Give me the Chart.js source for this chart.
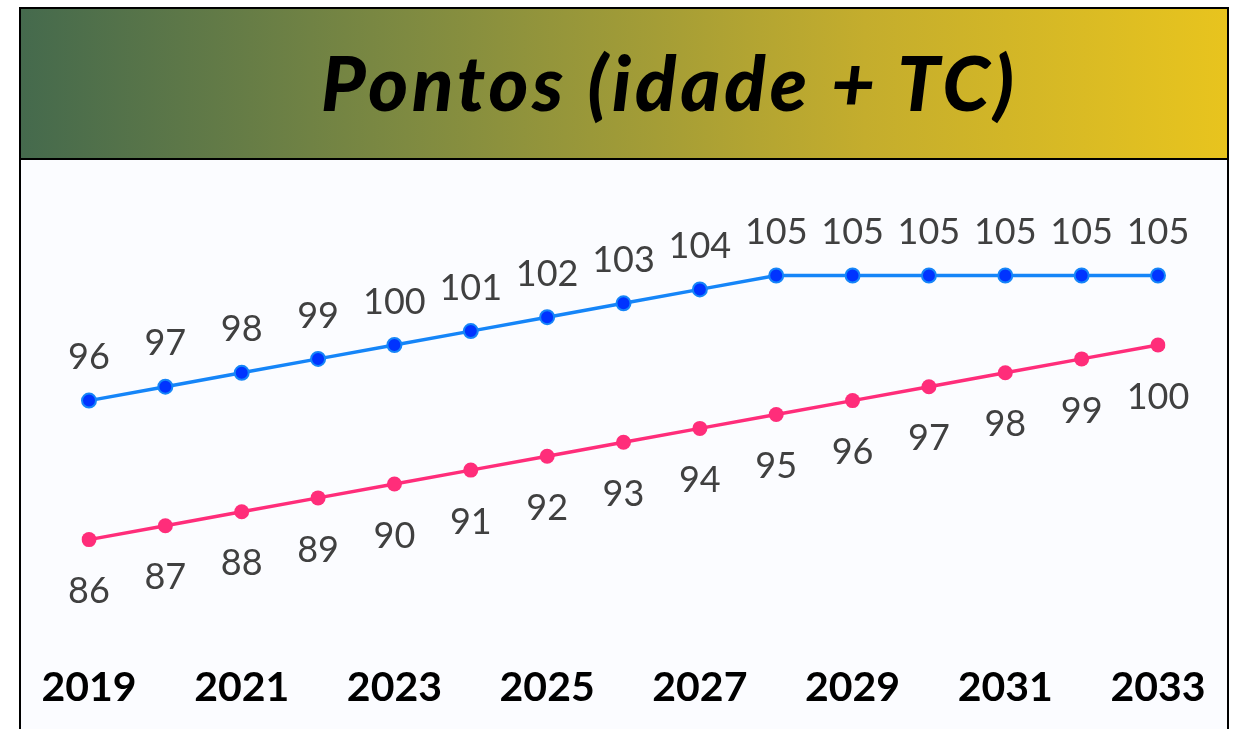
<!DOCTYPE html>
<html>
<head>
<meta charset="utf-8">
<script src="https://cdn.jsdelivr.net/npm/chart.js@4.4.1/dist/chart.umd.min.js"></script>
<style>
    body { margin: 0; background: #ffffff; width: 1240px; height: 729px; overflow: hidden; }
    #frame {
        position: absolute; left: 19px; top: 7px; width: 1206px; height: 740px;
        border: 2px solid #000; background: #fbfcff;
    }
    #header {
        height: 149px; border-bottom: 2px solid #000;
        background: linear-gradient(to right, #456a4d 0%, #7e8a41 32%, #c4ad2d 70%, #e8c41e 100%);
        position: relative;
    }
    #title {
        position: absolute; left: 300px; top: 28px;
        font-family: Lato, sans-serif; font-weight: 900; font-style: italic;
        font-size: 76px; line-height: 90px; letter-spacing: 4px; color: #000; white-space: nowrap;
    }
    #chart { position: absolute; left: 0; top: 151px; }
</style>
</head>
<body>
<div id="frame">
    <div id="header"><div id="title">Pontos (idade + TC)</div></div>
    <canvas id="chart" width="1206" height="569"></canvas>
</div>
<script>
const years = ['2019', '2020', '2021', '2022', '2023', '2024', '2025', '2026', '2027', '2028', '2029', '2030', '2031', '2032', '2033'];
const pontosHomens = [96, 97, 98, 99, 100, 101, 102, 103, 104, 105, 105, 105, 105, 105, 105];
const pontosMulheres = [86, 87, 88, 89, 90, 91, 92, 93, 94, 95, 96, 97, 98, 99, 100];

// simple value labels, above the blue line and below the pink one
const valueLabels = {
    id: 'valueLabels',
    afterDatasetsDraw(chart) {
        const ctx = chart.ctx;
        ctx.save();
        ctx.font = '36px Lato, sans-serif';
        ctx.fillStyle = '#404040';
        ctx.textAlign = 'center';
        ctx.textBaseline = 'middle';
        chart.data.datasets.forEach((ds, i) => {
            const offset = i === 0 ? -43 : 52;
            chart.getDatasetMeta(i).data.forEach((pt, j) => {
                ctx.fillText(String(ds.data[j]), pt.x, pt.y + offset);
            });
        });
        ctx.restore();
    }
};

new Chart(document.getElementById('chart'), {
    type: 'line',
    data: {
        labels: years,
        datasets: [
            {
                data: pontosHomens,
                borderColor: '#1585f8',
                borderWidth: 3.5,
                pointRadius: 7,
                pointBackgroundColor: '#0033ff',
                pointBorderColor: '#1585f8',
                pointBorderWidth: 2,
                tension: 0,
            },
            {
                data: pontosMulheres,
                borderColor: '#ff2d7a',
                borderWidth: 3.5,
                pointRadius: 7.5,
                pointBackgroundColor: '#ff2d7a',
                pointBorderColor: '#ff2d7a',
                pointBorderWidth: 0,
                tension: 0,
            },
        ],
    },
    options: {
        responsive: false,
        animation: false,
        layout: { padding: { left: 68, right: 69, top: 46, bottom: 0 } },
        plugins: { legend: { display: false }, tooltip: { enabled: false } },
        scales: {
            x: {
                offset: false,
                grid: { display: false },
                border: { display: false },
                afterFit: (scale) => {
                    scale.height = 106;
                    scale.paddingLeft = 0;
                    scale.paddingRight = 0;
                },
                ticks: {
                    autoSkip: false,
                    maxRotation: 0,
                    padding: 32,
                    color: '#000',
                    font: { family: 'Lato', weight: 'bold', size: 41 },
                    callback: (v, i) => (i % 2 === 0 ? years[i] : ''),
                },
            },
            y: { display: false, min: 80, max: 110 },
        },
    },
    plugins: [valueLabels],
});
</script>
</body>
</html>
